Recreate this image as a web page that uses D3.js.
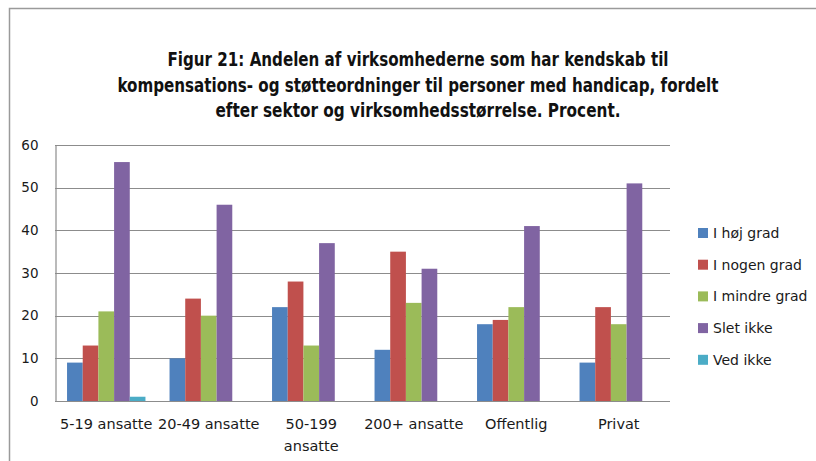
<!DOCTYPE html>
<html>
<head>
<meta charset="utf-8">
<script src="https://cdn.jsdelivr.net/npm/d3@7"></script>
<style>
    body { margin: 0; background: #fff; }
    svg { display: block; }
</style>
</head>
<body>
<div id="chart"></div>
<script>

// Data
var categories = ['5-19 ansatte', '20-49 ansatte', '50-199 ansatte', '200+ ansatte', 'Offentlig', 'Privat'];
var tickLabels = [['5-19 ansatte'], ['20-49 ansatte'], ['50-199', 'ansatte'], ['200+ ansatte'], ['Offentlig'], ['Privat']];
var seriesNames = ['I høj grad', 'I nogen grad', 'I mindre grad', 'Slet ikke', 'Ved ikke'];
var hojGrad = [9, 10, 22, 12, 18, 9];
var nogenGrad = [13, 24, 28, 35, 19, 22];
var mindreGrad = [21, 20, 13, 23, 22, 18];
var sletIkke = [56, 46, 37, 31, 41, 51];
var vedIkke = [1, 0, 0, 0, 0, 0];
var yTicks = [0, 10, 20, 30, 40, 50, 60];
var titleLines = [
    'Figur 21: Andelen af virksomhederne som har kendskab til',
    'kompensations- og støtteordninger til personer med handicap, fordelt',
    'efter sektor og virksomhedsstørrelse. Procent.'
];

var series = [hojGrad, nogenGrad, mindreGrad, sletIkke, vedIkke];
var colors = ['#4F81BD', '#C0504D', '#9BBB59', '#8064A2', '#4BACC6'];

var width = 816, height = 461;
var plot = { left: 55, right: 670, top: 145, bottom: 401 };

var svg = d3.select('#chart').append('svg')
    .attr('width', width)
    .attr('height', height);

// frame
svg.append('path')
    .attr('d', 'M9.5,' + height + 'V8.5H' + width)
    .attr('fill', 'none')
    .attr('stroke', '#9a9a9a')
    .attr('stroke-width', 1.5);

// title
var titleWidths = [501, 601, 405];
svg.append('g').selectAll('text')
    .data(titleLines)
    .join('text')
    .attr('x', 418)
    .attr('y', function(d, i){ return 66 + i * 25.5; })
    .attr('text-anchor', 'middle')
    .attr('textLength', function(d, i){ return titleWidths[i]; })
    .attr('lengthAdjust', 'spacingAndGlyphs')
    .style('font-family', '"DejaVu Sans Condensed", "DejaVu Sans", sans-serif')
    .style('font-weight', 'bold')
    .style('font-size', '19px')
    .style('fill', '#111')
    .text(function(d){ return d; });

var x0 = d3.scaleBand()
    .domain(categories)
    .range([plot.left, plot.right])
    .paddingInner(0.235)
    .paddingOuter(0.1175);

var x1 = d3.scaleBand()
    .domain(d3.range(series.length))
    .range([0, x0.bandwidth()]);

var y = d3.scaleLinear()
    .domain([0, 60])
    .range([plot.bottom, plot.top]);

// gridlines
svg.append('g').selectAll('line')
    .data(yTicks)
    .join('line')
    .attr('x1', plot.left)
    .attr('x2', plot.right)
    .attr('y1', function(d){ return Math.round(y(d)) + 0.5; })
    .attr('y2', function(d){ return Math.round(y(d)) + 0.5; })
    .attr('stroke', '#8c8c8c')
    .attr('stroke-width', 1.2);

// y axis
var yAxis = svg.append('g')
    .attr('transform', 'translate(' + (plot.left + 0.5) + ',0)')
    .call(d3.axisLeft(y).tickValues(yTicks).tickSize(0).tickPadding(17));
yAxis.select('.domain').attr('stroke', '#8c8c8c').attr('stroke-width', 1.2);
yAxis.selectAll('text')
    .style('font-family', '"DejaVu Sans", sans-serif')
    .style('font-size', '13.5px')
    .style('fill', '#1a1a1a');

// bars
var groups = svg.append('g').selectAll('g')
    .data(categories)
    .join('g')
    .attr('transform', function(d){ return 'translate(' + x0(d) + ',0)'; });

groups.selectAll('rect')
    .data(function(d, ci){ return series.map(function(s, si){ return { si: si, v: s[ci] }; }); })
    .join('rect')
    .attr('x', function(d){ return x1(d.si); })
    .attr('width', x1.bandwidth())
    .attr('y', function(d){ return y(d.v); })
    .attr('height', function(d){ return y(0) - y(d.v); })
    .attr('fill', function(d){ return colors[d.si]; });

// baseline on top of bars
svg.append('line')
    .attr('x1', plot.left)
    .attr('x2', plot.right)
    .attr('y1', Math.round(y(0)) + 0.5)
    .attr('y2', Math.round(y(0)) + 0.5)
    .attr('stroke', '#8c8c8c')
    .attr('stroke-width', 1.2);

// x labels
var xLabels = svg.append('g').selectAll('text')
    .data(categories)
    .join('text')
    .attr('x', function(d){ return x0(d) + x0.bandwidth() / 2; })
    .attr('y', 429)
    .attr('text-anchor', 'middle')
    .style('font-family', '"DejaVu Sans", sans-serif')
    .style('font-size', '14.5px')
    .style('fill', '#1a1a1a');

xLabels.selectAll('tspan')
    .data(function(d, i){ return tickLabels[i]; })
    .join('tspan')
    .attr('x', function(){ var p = this.parentNode; return p.getAttribute('x'); })
    .attr('dy', function(d, i){ return i === 0 ? 0 : 22; })
    .text(function(d){ return d; });

// legend
var legend = svg.append('g').selectAll('g')
    .data(seriesNames)
    .join('g')
    .attr('transform', function(d, i){ return 'translate(698,' + (233 + i * 31.7) + ')'; });

legend.append('rect')
    .attr('x', 0)
    .attr('y', -5)
    .attr('width', 10)
    .attr('height', 10)
    .attr('fill', function(d, i){ return colors[i]; });

legend.append('text')
    .attr('x', 15)
    .attr('dy', '0.36em')
    .style('font-family', '"DejaVu Sans", sans-serif')
    .style('font-size', '14px')
    .style('fill', '#1a1a1a')
    .text(function(d){ return d; });

</script>
</body>
</html>
